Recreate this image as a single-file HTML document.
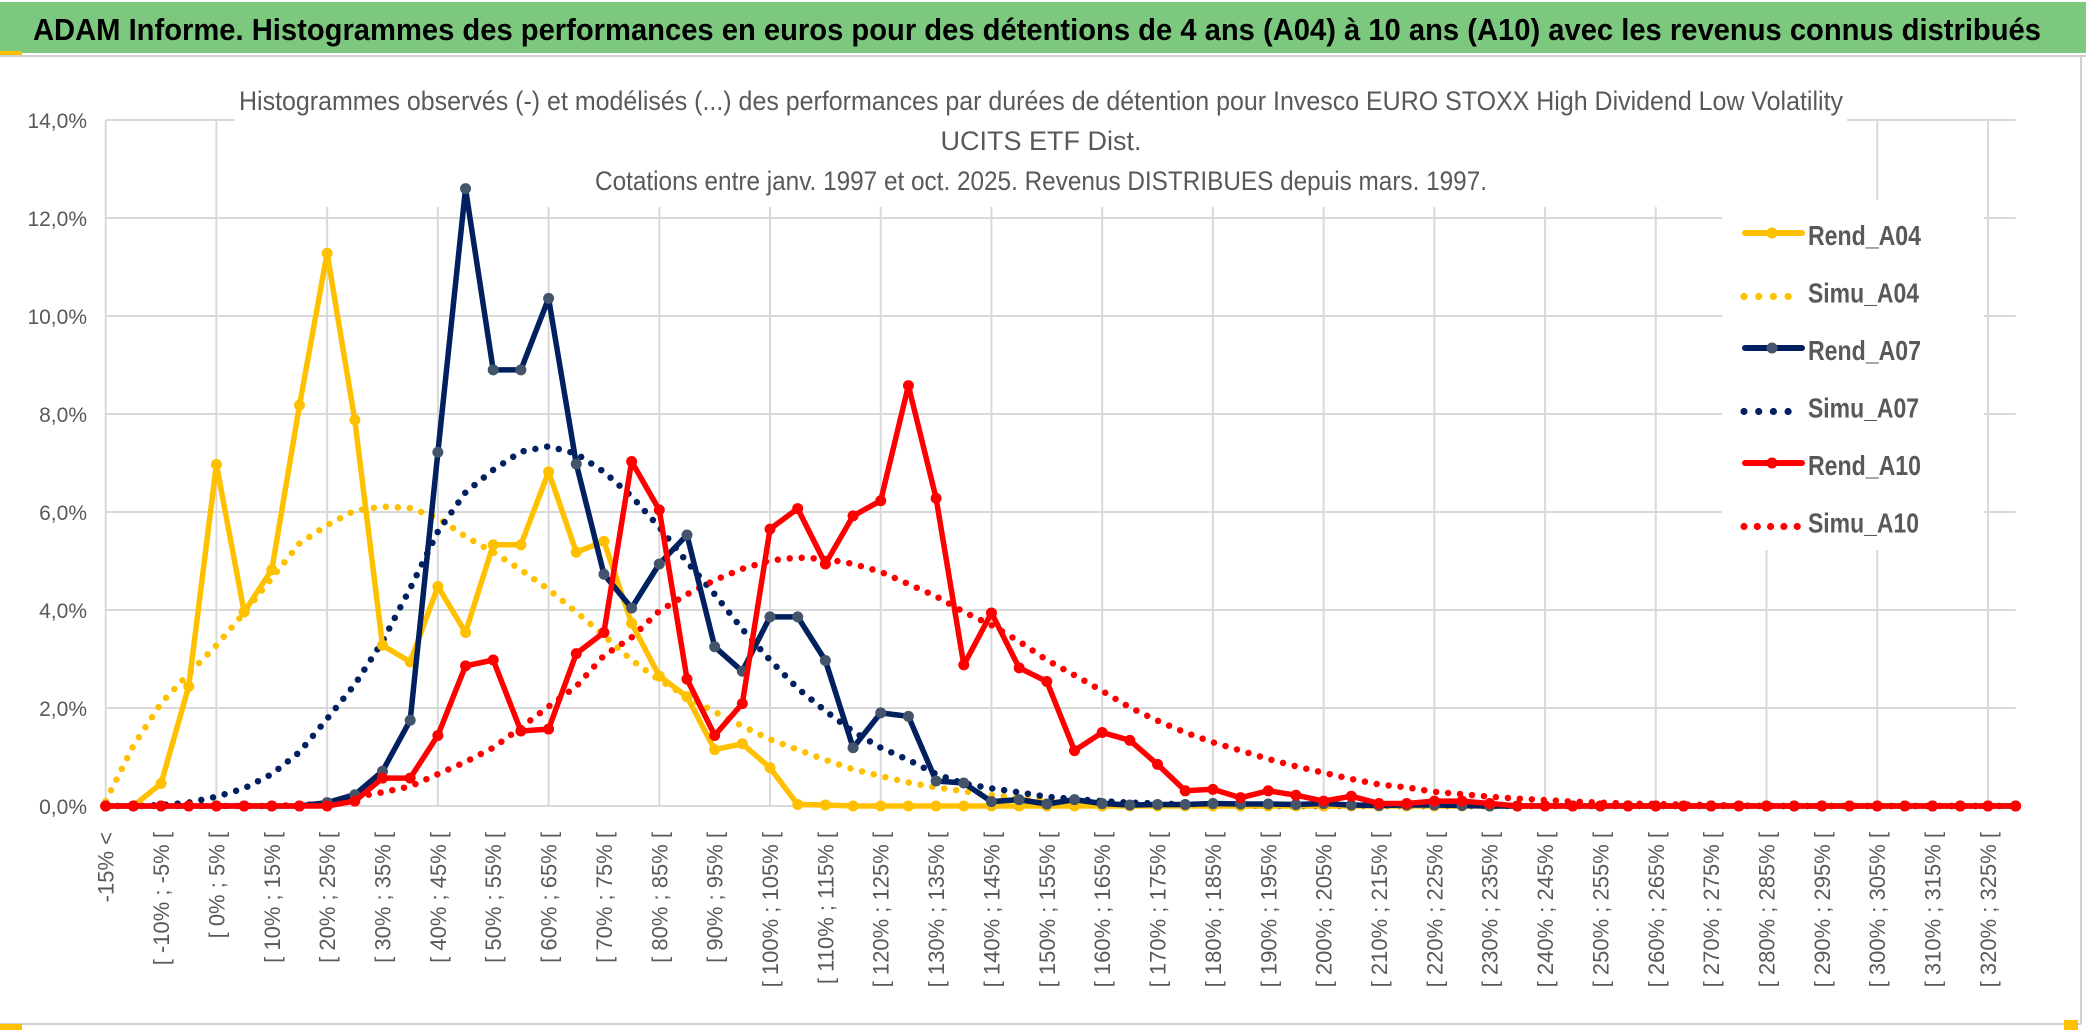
<!DOCTYPE html>
<html><head><meta charset="utf-8"><style>
html,body{margin:0;padding:0;background:#fff;}
svg{display:block;font-family:"Liberation Sans",sans-serif;}
</style></head><body>
<svg id="chart" width="2086" height="1033" viewBox="0 0 2086 1033" xmlns="http://www.w3.org/2000/svg">
<rect x="0" y="0" width="2086" height="1033" fill="#fff"/>
<rect x="0" y="2" width="2086" height="51" fill="#7DC87F"/>
<rect x="0" y="51" width="22" height="4" fill="#FFC000"/>
<line x1="0" y1="56" x2="2086" y2="56" stroke="#d0d0d0" stroke-width="2"/>
<text x="33" y="40" font-size="31" font-weight="bold" fill="#000" textLength="2008" lengthAdjust="spacingAndGlyphs">ADAM Informe. Histogrammes des performances en euros pour des détentions de 4 ans (A04) à 10 ans (A10) avec les revenus connus distribués</text>
<line x1="2081" y1="56" x2="2081" y2="1024" stroke="#d0d0d0" stroke-width="2"/>
<line x1="0" y1="1024" x2="2081" y2="1024" stroke="#d0d0d0" stroke-width="2"/>
<rect x="0" y="1024" width="22" height="6" fill="#FFC000"/>
<rect x="2064" y="1020" width="14" height="10" fill="#FFC000"/>
<g id="grid"></g>
<g id="titlebox">
<rect x="235" y="80" width="1612" height="127" fill="#fff"/>
<text x="239" y="110" font-size="27" fill="#595959" textLength="1604" lengthAdjust="spacingAndGlyphs">Histogrammes observés (-) et modélisés (...) des performances par durées de détention pour Invesco EURO STOXX High Dividend Low Volatility</text>
<text x="1041" y="150" font-size="27" fill="#595959" text-anchor="middle">UCITS ETF Dist.</text>
<text x="595" y="190" font-size="27" fill="#595959" textLength="892" lengthAdjust="spacingAndGlyphs">Cotations entre janv. 1997 et oct. 2025. Revenus DISTRIBUES depuis mars. 1997.</text>
</g>
<g id="yaxis"></g>
<g id="xaxis"></g>
<g id="series"></g>
<g id="legend"></g>
</svg>
<script>
const yTicks = [0, 2, 4, 6, 8, 10, 12, 14];
const yTickLabels = ["0,0%","2,0%","4,0%","6,0%","8,0%","10,0%","12,0%","14,0%"];
const categories = (function(){ const c=["-15% <"]; for(let a=-15;a<=325;a+=5){ c.push("[ "+a+"% ; "+(a+5)+"% ["); } return c; })().slice(0,70);
const rendA04 = [0,0,0.46,2.44,6.97,3.96,4.82,8.18,11.28,7.88,3.28,2.94,4.48,3.54,5.33,5.33,6.82,5.18,5.4,3.73,2.65,2.23,1.15,1.27,0.78,0.03,0.02,0,0,0,0,0,0,0,0,0,0,0,0,0,0,0,0,0,0,0,0,0,0,0,0,0,0,0,0,0,0,0,0,0,0,0,0,0,0,0,0,0,0,0];
const simuA04 = [0.1,1.23,2.1,2.7,3.28,3.94,4.65,5.36,5.73,6.03,6.11,6.08,5.88,5.5,5.18,4.82,4.42,3.96,3.48,2.98,2.57,2.23,1.92,1.63,1.36,1.15,0.94,0.75,0.61,0.48,0.38,0.3,0.22,0.17,0.13,0.1,0.07,0.05,0.04,0.03,0.02,0.01,0.01,0,0,0,0,0,0,0,0,0,0,0,0,0,0,0,0,0,0,0,0,0,0,0,0,0,0,0];
const rendA07 = [0,0,0,0,0,0,0,0,0.07,0.23,0.71,1.75,7.22,12.6,8.9,8.9,10.36,6.98,4.73,4.04,4.94,5.53,3.25,2.75,3.86,3.86,2.97,1.19,1.9,1.83,0.51,0.47,0.09,0.13,0.04,0.13,0.05,0.02,0.03,0.03,0.05,0.04,0.04,0.03,0.05,0.02,0.01,0.02,0.02,0.01,0,0,0,0,0,0,0,0,0,0,0,0,0,0,0,0,0,0,0,0];
const simuA07 = [0,0,0.02,0.07,0.19,0.36,0.65,1.1,1.78,2.48,3.36,4.44,5.6,6.4,6.86,7.23,7.34,7.19,6.82,6.32,5.69,4.98,4.32,3.61,2.98,2.4,1.94,1.52,1.19,0.94,0.65,0.46,0.36,0.28,0.19,0.14,0.1,0.07,0.05,0.03,0.02,0.01,0,0,0,0,0,0,0,0,0,0,0,0,0,0,0,0,0,0,0,0,0,0,0,0,0,0,0,0];
const rendA10 = [0,0,0,0,0,0,0,0,0,0.1,0.57,0.57,1.44,2.86,2.98,1.53,1.57,3.11,3.54,7.03,6.04,2.59,1.44,2.09,5.65,6.07,4.94,5.92,6.23,8.58,6.28,2.88,3.94,2.82,2.54,1.13,1.5,1.34,0.85,0.31,0.34,0.17,0.31,0.22,0.1,0.2,0.05,0.05,0.1,0.1,0.05,0,0,0,0,0,0,0,0,0,0,0,0,0,0,0,0,0,0,0];
const simuA10 = [0,0,0,0,0,0,0,0.02,0.05,0.18,0.28,0.4,0.65,0.9,1.19,1.6,2.03,2.44,3.07,3.44,3.98,4.32,4.61,4.84,5.01,5.07,5.04,4.94,4.78,4.53,4.28,3.96,3.69,3.36,2.98,2.67,2.35,2.01,1.74,1.5,1.3,1.13,0.96,0.81,0.68,0.55,0.44,0.38,0.29,0.24,0.19,0.15,0.12,0.09,0.07,0.05,0.04,0.03,0.02,0.01,0,0,0,0,0,0,0,0,0,0];
const seriesNames = ["Rend_A04","Simu_A04","Rend_A07","Simu_A07","Rend_A10","Simu_A10"];

const NS="http://www.w3.org/2000/svg";
const X0=105.7, DX=27.68, Y0=806, PY=49;
function xs(i){ return X0 + DX*i; }
function ys(v){ return Y0 - PY*v; }
function mk(tag, attrs, parent){ const e=document.createElementNS(NS,tag); for(const k in attrs) e.setAttribute(k,attrs[k]); parent.appendChild(e); return e; }

const grid=document.getElementById('grid');
const yTop = ys(14);
yTicks.forEach((t,k)=>{
  const l=mk('line',{x1:X0,x2:xs(69),y1:ys(t),y2:ys(t),stroke:'#d9d9d9','stroke-width':2},grid);
  
  
});
for(let i=0;i<categories.length;i+=4){
  const l=mk('line',{x1:xs(i),x2:xs(i),y1:yTop,y2:Y0,stroke:'#d9d9d9','stroke-width':2},grid);
  
  
}
const yaxis=document.getElementById('yaxis');
yTicks.forEach((t,k)=>{
  const tx=mk('text',{x:87,y:ys(t)+8,'font-size':21,fill:'#595959','text-anchor':'end'},yaxis);
  tx.textContent=yTickLabels[k];
  
  
});
const xaxis=document.getElementById('xaxis');
categories.forEach((c,i)=>{
  if(i%2) return;
  const x=xs(i)+8, y=832;
  const tx=mk('text',{x:x,y:y,'font-size':22,fill:'#595959','text-anchor':'end',transform:'rotate(-90 '+x+' '+y+')'},xaxis);
  tx.textContent=c;
  
  
});

const seriesG=document.getElementById('series');
function pts(arr){ return arr.map((v,i)=>xs(i).toFixed(1)+','+ys(v).toFixed(1)).join(' '); }
function dotted(arr,color,name){
  const p=mk('polyline',{points:pts(arr),fill:'none',stroke:color,'stroke-width':6.5,'stroke-linecap':'round','stroke-dasharray':'0 12'},seriesG);
  
  
}
function solid(arr,color,mcolor,name){
  const g=mk('g',{},seriesG);
  
  
  const p=mk('polyline',{points:pts(arr),fill:'none',stroke:color,'stroke-width':5.5,'stroke-linejoin':'round'},g);
  
  
  arr.forEach((v,i)=>{
    const c=mk('circle',{cx:xs(i),cy:ys(v),r:5.5,fill:mcolor},g);
    
    
  });
}
dotted(simuA04,'#FFC000','simu-a04-line');
dotted(simuA07,'#002060','simu-a07-line');
dotted(simuA10,'#FF0000','simu-a10-line');
solid(rendA04,'#FFC000','#FFC000','rend-a04-series');
solid(rendA07,'#002060','#44546A','rend-a07-series');
solid(rendA10,'#FF0000','#FF0000','rend-a10-series');

const legend=document.getElementById('legend');
const lb=mk('rect',{x:1722,y:200,width:262,height:350,fill:'#fff'},legend);


const lstyle=[['#FFC000','#FFC000',false],['#FFC000','#FFC000',true],['#002060','#44546A',false],['#002060','#44546A',true],['#FF0000','#FF0000',false],['#FF0000','#FF0000',true]];
seriesNames.forEach((n,k)=>{
  const y=234+57.5*k;
  const g=mk('g',{},legend);
  
  
  const [c,m,dot]=lstyle[k];
  if(dot){
    const cnt = k===5?5:4;
    const sp = k===5?13.3:14.7;
    for(let j=0;j<cnt;j++){
      const d=mk('circle',{cx:1744+sp*j,cy:y+5,r:3.6,fill:c},g);
      
      
    }
  } else {
    const l=mk('line',{x1:1745,x2:1802,y1:y-1,y2:y-1,stroke:c,'stroke-width':6,'stroke-linecap':'round'},g);
    
    
    const d=mk('circle',{cx:1772,cy:y-1,r:5.5,fill:m},g);
    
    
  }
  const t=mk('text',{x:1808,y:y+11,'font-size':28,'font-weight':'bold',fill:'#595959',textLength:n.startsWith('Rend')?113:111,lengthAdjust:'spacingAndGlyphs'},g);
  t.textContent=n;
  
  
});
</script>
</body></html>
